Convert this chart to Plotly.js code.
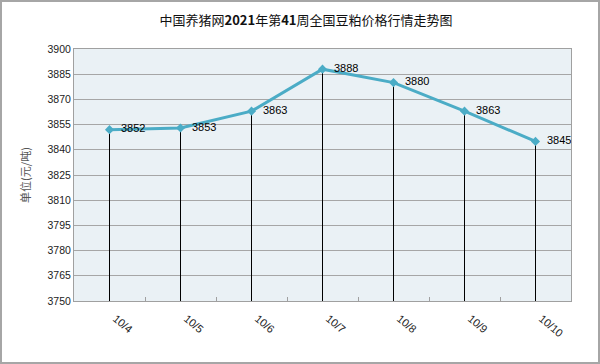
<!DOCTYPE html>
<html><head><meta charset="utf-8">
<script src="https://cdn.plot.ly/plotly-3.0.1.min.js"></script>
<style>
html,body{margin:0;padding:0;background:#fff;}
#chart{position:absolute;left:0;top:0;width:600px;height:364px;}
#frame{position:absolute;left:0;top:0;width:596px;height:360px;border:2px solid #a6a6a6;pointer-events:none;}
</style></head>
<body>
<div id="chart"></div><div id="frame"></div>
<script>
var dates = ["10/4","10/5","10/6","10/7","10/8","10/9","10/10"];
var prices = [3852, 3853, 3863, 3888, 3880, 3863, 3845];
var yMin = 3750, yMax = 3900, yStep = 15;
var titleText = '中国养猪网<b>2021</b>年第<b>41</b>周全国豆粕价格行情走势图';

var drops = prices.map(function(v){ return v - yMin; });
var zeros = prices.map(function(){ return 0; });

var trace = {
  x: dates, y: prices, type: 'scatter', mode: 'lines+markers+text',
  text: prices.map(function(v){ return '  ' + v; }), textposition: 'middle right',
  textfont: {family: 'Liberation Sans, Arial, sans-serif', size: 11, color: '#000'},
  line: {color: '#4bacc6', width: 3},
  marker: {symbol: 'diamond', size: 7, color: '#4bacc6'},
  error_y: {type: 'data', symmetric: false, array: zeros, arrayminus: drops,
            color: '#000', thickness: 1, width: 0},
  cliponaxis: false, hoverinfo: 'none'
};

var layout = {
  width: 600, height: 364,
  margin: {l: 74, r: 29, t: 49, b: 63},
  paper_bgcolor: '#fff', plot_bgcolor: '#eaf1f5',
  showlegend: false,
  title: {text: titleText,
          font: {family: 'Noto Sans CJK SC, sans-serif', size: 13, color: '#111'},
          x: 0.51, xanchor: 'center', y: 0.945, yanchor: 'middle'},
  xaxis: {type: 'category', range: [-0.5, 6.5], tickangle: 40,
          ticklabelshift: 6, ticklabelstandoff: 6,
          ticks: 'inside', tickson: 'boundaries', ticklen: 4, tickcolor: '#a0a0a0',
          showgrid: false, showline: true, linecolor: '#a0a0a0', mirror: true,
          tickfont: {family: 'Liberation Sans, Arial, sans-serif', size: 11, color: '#222'}},
  yaxis: {range: [yMin, yMax], dtick: yStep, tick0: yMin,
          showgrid: true, gridcolor: '#a6a6a6', gridwidth: 1,
          showline: true, linecolor: '#a0a0a0', mirror: true, zeroline: false,
          ticks: '', ticklen: 0,
          tickfont: {family: 'Liberation Sans, Arial, sans-serif', size: 10.5, color: '#222'},
          title: {text: '单位(元/吨)', standoff: 14,
                  font: {family: 'Noto Sans CJK SC, sans-serif', size: 11, color: '#555'}}}
};

Plotly.newPlot('chart', [trace], layout, {displayModeBar: false, staticPlot: true});
</script>
</body></html>
